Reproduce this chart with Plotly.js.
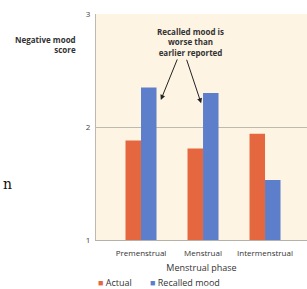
<!DOCTYPE html>
<html><head><meta charset="utf-8">
<script src="https://cdn.plot.ly/plotly-3.0.1.min.js"></script>
<style>html,body{margin:0;padding:0;background:#fff}#c{width:307px;height:289px}</style>
</head><body><div id="c"></div>
<script>
const phases = ["Premenstrual", "Menstrual", "Intermenstrual"];
const actual = [1.88, 1.81, 1.94];
const recalled = [2.35, 2.30, 1.53];
const yTicks = [1, 2, 3];

const orange = "#e5673f", blue = "#5d7fcb";
const F = "Open Sans, Noto Sans, sans-serif";

const data = [
  {type:"bar", name:"Actual", x:phases, y:actual, marker:{color:orange}, showlegend:false, hoverinfo:"skip"},
  {type:"bar", name:"Recalled mood", x:phases, y:recalled, marker:{color:blue}, showlegend:false, hoverinfo:"skip"}
];

const layout = {
  width:307, height:289,
  margin:{l:96, r:0, t:14, b:49},
  paper_bgcolor:"#ffffff", plot_bgcolor:"#fef4e3",
  barmode:"group", bargap:0.5, bargroupgap:0,
  font:{family:F, size:8, color:"#333"},
  xaxis:{type:"category", range:[-0.726, 2.677], showgrid:false, zeroline:false,
    showline:true, linecolor:"#b5b1a9", ticks:"", tickfont:{size:8, color:"#333"}, ticklabelstandoff:5,
    title:{text:"Menstrual phase", font:{size:9, color:"#333"}, standoff:8}},
  yaxis:{range:[1,3], tickvals:yTicks, ticktext:yTicks.map(String), showgrid:true,
    gridcolor:"#bdb9b1", gridwidth:1, zeroline:false, showline:true, linecolor:"#bdb9b1",
    ticks:"", tickfont:{size:8, color:"#444"}, ticklabelstandoff:3},
  annotations:[
    {xref:"paper", yref:"paper", x:-0.085, y:0.867, xanchor:"right", yanchor:"middle", align:"right",
     text:"<b>Negative mood<br>score</b>", showarrow:false, font:{size:8, color:"#333"}},
    {xref:"x", yref:"paper", x:0.79, y:0.955, xanchor:"center", yanchor:"top", align:"center",
     text:"<b>Recalled mood is<br>worse than<br>earlier reported</b>", showarrow:false, font:{size:8, color:"#333"}},
    {xref:"x", yref:"y", x:0.32, y:2.24, ax:17, ay:-42, text:"", showarrow:true, arrowhead:2, arrowsize:1, arrowwidth:1, arrowcolor:"#222"},
    {xref:"x", yref:"y", x:0.97, y:2.21, ax:-15, ay:-45, text:"", showarrow:true, arrowhead:2, arrowsize:1, arrowwidth:1, arrowcolor:"#222"},
    {xref:"paper", yref:"paper", x:0.0, y:-0.186, xanchor:"left", yanchor:"middle", showarrow:false,
     text:"<span style='color:"+orange+"'>■</span> Actual", font:{size:9, color:"#333"}},
    {xref:"paper", yref:"paper", x:0.245, y:-0.186, xanchor:"left", yanchor:"middle", showarrow:false,
     text:"<span style='color:"+blue+"'>■</span> Recalled mood", font:{size:9, color:"#333"}},
    {xref:"paper", yref:"paper", x:-0.45, y:0.25, xanchor:"left", yanchor:"middle", showarrow:false,
     text:"n", font:{family:"DejaVu Serif, serif", size:14, color:"#111"}}
  ]
};
Plotly.newPlot("c", data, layout, {staticPlot:true, displayModeBar:false});
</script></body></html>
